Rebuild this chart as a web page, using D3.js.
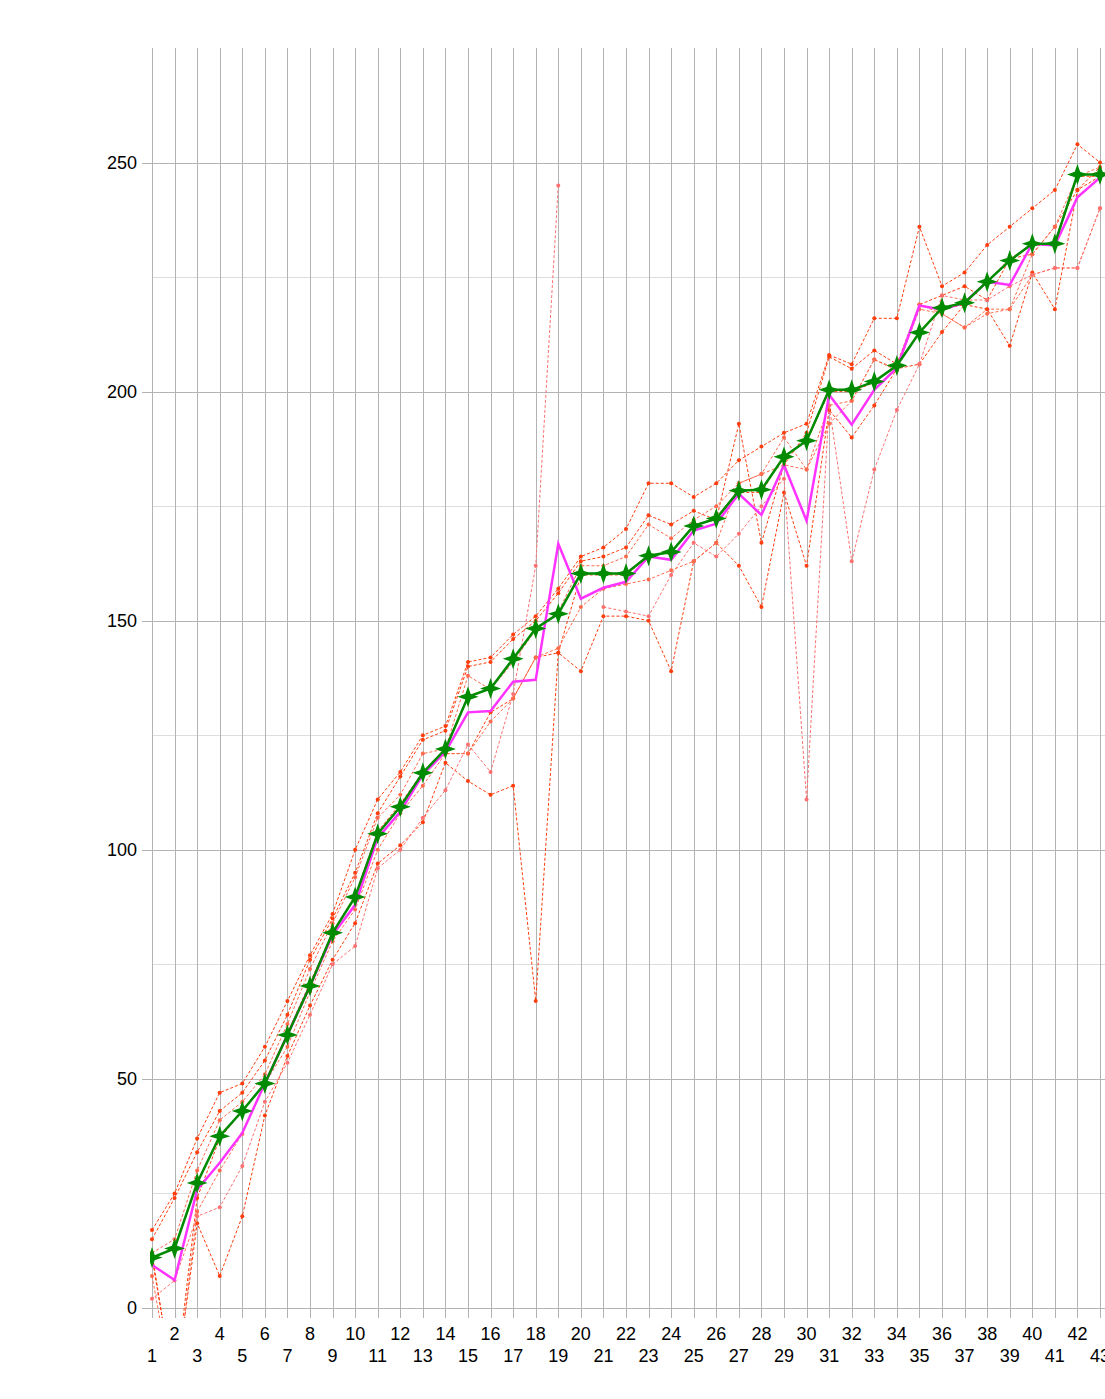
<!DOCTYPE html>
<html><head><meta charset="utf-8">
<script src="https://cdn.jsdelivr.net/npm/d3@7"></script>
<style>html,body{margin:0;padding:0;background:#fff;}</style>
</head><body>
<svg id="c" width="1105" height="1399"></svg>
<script>
const categories = d3.range(1, 44);
const yTicks = [0, 50, 100, 150, 200, 250];
const yMinorTicks = [25, 75, 125, 175, 225];

const greenSeries = [11,13,27.3,37.5,43,49,59.6,70.3,81.9,89.7,103.5,109.4,116.8,122,133.4,135.2,141.7,148.3,151.5,160.3,160.3,160.3,164.2,165,170.7,172.3,178.4,178.6,185.8,189.3,200.4,200.4,202.2,205.7,212.9,218.3,219.4,224,228.6,232.3,232.3,247.4,247.4];
const magentaSeries = [9.4,6.1,25.8,31.7,38.2,49,59.6,70.3,81.4,88,102.6,108.3,116.4,121.4,130,130.3,136.7,137.1,166.8,154.8,157.2,158.5,164,163.3,169.7,171.2,177.7,173.1,184,171.8,199.3,192.8,200.4,205.2,218.8,217.9,219.4,224,223.3,232.3,231.9,242.4,246.7];

const red1 = [17,25,37,47,49,57,67,77,86,100,111,117,125,127,141,142,147,151,157,164,166,170,180,180,177,180,185,188,191,193,208,206,216,216,236,223,226,232,236,240,244,254,250];
const red2 = [15,24,34,43,47,54,64,76,85,95,108,116,124,126,140,141,146,150,156,163,164,166,173,171,174,172,193,167,184,191,207.6,205,209,206,219,221,223,220,229,230,236,244,249];
const red3 = [12,15,30,41,45,51,62,74,84,94,107,112,121,122,138,135,141,148,152,162,162,164,171,168,172,175,180,182,184,183,197,198,207,205,218,217,214,218,218,225.5,227,227,240];
const red4 = [11,-18,24,37,43,49,60,71,82,90,104,110,117,121,121,130,133,142,143,160,160,160,164,165,171,172,178,178,186,189,200,200,202,206,213,218,219,224,229,232,232,247,247];
const red5 = [12,-19,18.5,7,20,42,55,66,76,84,97,101,106,119,115,112,114,67,143,139,151,151,150,139,163,167,162,153,178,162,196,190,197,205,206,213,219,218,210,226,218,244,247];
const red6 = [2,6,20,22,31,45,53.5,64,75,79,96,100,107,113,123,117,134,162,245,null,153,152,151,160,167,164,169,175,181,111,197,163,183,196,206,221,220,220,223,225.5,227,227,240];
const red7 = [7,-20,21,30,38,49,57,69,80,87,100,108,114,121,121,128,133,142,144,153,157,158,159,161,163,167,180,182,190,183,193,198,207,204.6,219,217,214,217,218,230,236,247,249];

const redSeries = [
  {values: red1, color: "#ff3d0d"},
  {values: red2, color: "#ff3d0d"},
  {values: red3, color: "#ff6a4d"},
  {values: red4, color: "#ff3d0d"},
  {values: red5, color: "#ff3d0d"},
  {values: red6, color: "#ff7070"},
  {values: red7, color: "#ff6a4d"}
];

(function(){
const svg = d3.select("#c");
const L = 152, R = 1100, T = 48, B = 1308;
const x = d3.scaleLinear().domain([1, 43]).range([L, R]);
const y = d3.scaleLinear().domain([0, 275]).range([B, T]);

svg.append("defs").append("clipPath").attr("id","clip")
  .append("rect").attr("x", L-2).attr("y", T).attr("width", 1105-L+2).attr("height", 1318-T);

svg.append("g").selectAll("line").data(yMinorTicks).join("line")
  .attr("x1", L).attr("x2", 1105).attr("y1", d=>Math.round(y(d))+0.5).attr("y2", d=>Math.round(y(d))+0.5)
  .attr("stroke", "#dddddd").attr("stroke-width", 1);
svg.append("g").selectAll("line").data(yTicks).join("line")
  .attr("x1", 142).attr("x2", 1105).attr("y1", d=>Math.round(y(d))+0.5).attr("y2", d=>Math.round(y(d))+0.5)
  .attr("stroke", "#b3b3b3").attr("stroke-width", 1);
svg.append("g").selectAll("line").data(categories).join("line")
  .attr("x1", d=>Math.round(x(d))+0.5).attr("x2", d=>Math.round(x(d))+0.5)
  .attr("y1", T).attr("y2", 1318)
  .attr("stroke", "#b3b3b3").attr("stroke-width", 1);

svg.append("g").selectAll("text").data(yTicks).join("text")
  .attr("x", 137).attr("y", d=>y(d)).attr("dy", "0.35em")
  .attr("text-anchor", "end")
  .attr("font-family", "Liberation Sans, Arial, sans-serif").attr("font-size", 18)
  .attr("fill", "#000").text(d=>d);
svg.append("g").selectAll("text").data(categories).join("text")
  .attr("x", d=>x(d)).attr("y", d=> d%2===0 ? 1340 : 1362)
  .attr("text-anchor", "middle")
  .attr("font-family", "Liberation Sans, Arial, sans-serif").attr("font-size", 18)
  .attr("fill", "#000").text(d=>d);

const plot = svg.append("g").attr("clip-path", "url(#clip)");
const line = d3.line().defined(d=>d[1]!==null).x(d=>x(d[0])).y(d=>y(d[1]));

redSeries.forEach(s => {
  const pts = categories.map((c,i)=>[c, s.values[i]]);
  plot.append("path").attr("d", line(pts)).attr("fill","none")
    .attr("stroke", s.color).attr("stroke-width", 1).attr("stroke-dasharray", "3,2");
  plot.append("g").selectAll("circle").data(pts.filter(p=>p[1]!==null)).join("circle")
    .attr("cx", p=>x(p[0])).attr("cy", p=>y(p[1])).attr("r", 2)
    .attr("fill", s.color);
});

plot.append("path").attr("d", line(categories.map((c,i)=>[c, magentaSeries[i]])))
  .attr("fill","none").attr("stroke","#ff33ff").attr("stroke-width", 2.5);

plot.append("path").attr("d", line(categories.map((c,i)=>[c, greenSeries[i]])))
  .attr("fill","none").attr("stroke","#008a00").attr("stroke-width", 2.5);

function star(r, ri){
  const p = [];
  for(let k=0;k<8;k++){
    const a = k*Math.PI/4 - Math.PI/2;
    const rr = k%2===0 ? r : ri;
    p.push([rr*Math.cos(a), rr*Math.sin(a)]);
  }
  return "M"+p.map(q=>q.join(",")).join("L")+"Z";
}
plot.append("g").selectAll("path").data(categories.map((c,i)=>[c, greenSeries[i]])).join("path")
  .attr("d", star(10.5, 3.8))
  .attr("transform", p=>`translate(${x(p[0])},${y(p[1])})`)
  .attr("fill", "#008a00");
})();
</script>
</body></html>
